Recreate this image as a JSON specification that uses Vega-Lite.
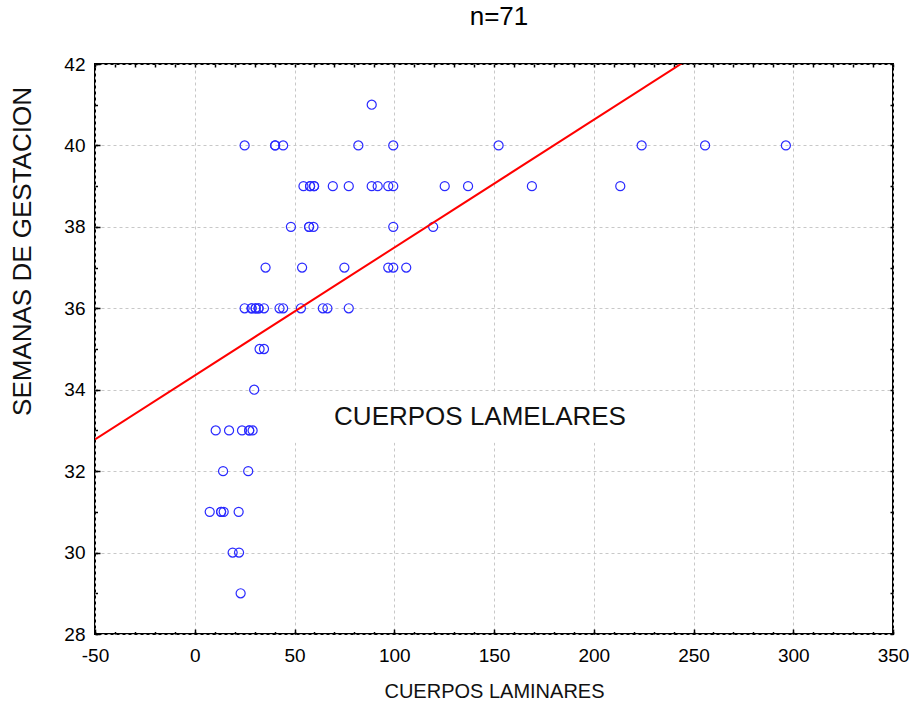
{
  "$schema": "https://vega.github.io/schema/vega-lite/v6.json",
  "width": 798,
  "height": 570,
  "autosize": {"type": "none"},
  "padding": {"left": 95, "top": 64, "right": 16, "bottom": 72},
  "background": "white",
  "title": {
    "text": "n=71",
    "font": "Liberation Sans",
    "fontSize": 26,
    "fontWeight": "normal",
    "color": "black",
    "anchor": "middle",
    "baseline": "alphabetic",
    "offset": 4,
    "dx": 5
  },
  "config": {
    "view": {"stroke": "black", "strokeWidth": 2},
    "axis": {
      "domain": false,
      "grid": false,
      "labelFont": "Liberation Sans",
      "labelFontSize": 19,
      "labelColor": "black",
      "labelFlush": false,
      "titleFont": "Liberation Sans",
      "titleColor": "#111111",
      "titleFontWeight": "normal",
      "tickColor": "black",
      "tickWidth": 1.5,
      "gridColor": "#c8c8c8",
      "gridDash": [3, 3],
      "gridWidth": 1
    }
  },
  "resolve": {"axis": {"x": "independent", "y": "independent"}},
  "layer": [
    {
      "data": {"values": [{"x0": 46, "x1": 240, "y0": 32.7, "y1": 33.93}]},
      "mark": {"type": "rect", "fill": "white", "strokeWidth": 0},
      "encoding": {
        "x": {
          "field": "x0", "type": "quantitative",
          "scale": {"domain": [-50, 350], "nice": false, "zero": false},
          "axis": {
            "orient": "bottom",
            "values": [-50, 0, 50, 100, 150, 200, 250, 300, 350],
            "labelExpr": "'' + datum.value",
            "labelOverlap": false,
            "grid": true, "ticks": false, "labelPadding": 12,
            "title": "CUERPOS LAMINARES", "titleFontSize": 20,
            "titleY": 57, "titleBaseline": "middle"
          }
        },
        "x2": {"field": "x1"},
        "y": {
          "field": "y0", "type": "quantitative",
          "scale": {"domain": [28, 42], "nice": false, "zero": false},
          "axis": {
            "orient": "left",
            "values": [28, 30, 32, 34, 36, 38, 40, 42],
            "labelOverlap": false,
            "grid": true, "ticks": false, "labelPadding": 10,
            "title": "SEMANAS DE GESTACION", "titleFontSize": 26,
            "titleX": -73, "titleY": 187,
            "titleAlign": "center", "titleBaseline": "middle"
          }
        },
        "y2": {"field": "y1"}
      }
    },
    {
      "data": {
        "values": [
          {"cuerpos": 88.7, "semanas": 41},
          {"cuerpos": 25, "semanas": 40}, {"cuerpos": 40.3, "semanas": 40}, {"cuerpos": 40.3, "semanas": 40},
          {"cuerpos": 44.3, "semanas": 40}, {"cuerpos": 82, "semanas": 40}, {"cuerpos": 99.5, "semanas": 40},
          {"cuerpos": 152.3, "semanas": 40}, {"cuerpos": 224, "semanas": 40}, {"cuerpos": 255.8, "semanas": 40},
          {"cuerpos": 296.3, "semanas": 40},
          {"cuerpos": 54.5, "semanas": 39}, {"cuerpos": 57.8, "semanas": 39}, {"cuerpos": 57.8, "semanas": 39},
          {"cuerpos": 59.8, "semanas": 39}, {"cuerpos": 59.8, "semanas": 39}, {"cuerpos": 69.2, "semanas": 39},
          {"cuerpos": 77.2, "semanas": 39}, {"cuerpos": 88.7, "semanas": 39}, {"cuerpos": 91.7, "semanas": 39},
          {"cuerpos": 97, "semanas": 39}, {"cuerpos": 99.5, "semanas": 39}, {"cuerpos": 125.3, "semanas": 39},
          {"cuerpos": 137, "semanas": 39}, {"cuerpos": 169, "semanas": 39}, {"cuerpos": 213.3, "semanas": 39},
          {"cuerpos": 48.2, "semanas": 38}, {"cuerpos": 57.3, "semanas": 38}, {"cuerpos": 57.3, "semanas": 38},
          {"cuerpos": 59.5, "semanas": 38}, {"cuerpos": 99.5, "semanas": 38}, {"cuerpos": 119.5, "semanas": 38},
          {"cuerpos": 35.5, "semanas": 37}, {"cuerpos": 53.8, "semanas": 37}, {"cuerpos": 75, "semanas": 37},
          {"cuerpos": 97, "semanas": 37}, {"cuerpos": 99.5, "semanas": 37}, {"cuerpos": 106, "semanas": 37},
          {"cuerpos": 25, "semanas": 36}, {"cuerpos": 28.5, "semanas": 36}, {"cuerpos": 28.5, "semanas": 36},
          {"cuerpos": 30.5, "semanas": 36}, {"cuerpos": 30.5, "semanas": 36}, {"cuerpos": 32, "semanas": 36},
          {"cuerpos": 32, "semanas": 36}, {"cuerpos": 34.7, "semanas": 36}, {"cuerpos": 42.5, "semanas": 36},
          {"cuerpos": 44.3, "semanas": 36}, {"cuerpos": 53.2, "semanas": 36}, {"cuerpos": 64.2, "semanas": 36},
          {"cuerpos": 66.5, "semanas": 36}, {"cuerpos": 77.2, "semanas": 36},
          {"cuerpos": 32.5, "semanas": 35}, {"cuerpos": 34.7, "semanas": 35},
          {"cuerpos": 29.8, "semanas": 34},
          {"cuerpos": 10.5, "semanas": 33}, {"cuerpos": 17.2, "semanas": 33}, {"cuerpos": 23.7, "semanas": 33},
          {"cuerpos": 27.3, "semanas": 33}, {"cuerpos": 27.3, "semanas": 33}, {"cuerpos": 29, "semanas": 33},
          {"cuerpos": 14.2, "semanas": 32}, {"cuerpos": 26.8, "semanas": 32},
          {"cuerpos": 7.5, "semanas": 31}, {"cuerpos": 13.2, "semanas": 31}, {"cuerpos": 13.2, "semanas": 31},
          {"cuerpos": 14.5, "semanas": 31}, {"cuerpos": 22, "semanas": 31},
          {"cuerpos": 19, "semanas": 30}, {"cuerpos": 22.2, "semanas": 30},
          {"cuerpos": 23, "semanas": 29}
        ]
      },
      "mark": {"type": "point", "shape": "circle", "filled": false, "size": 82, "stroke": "#2a2aff", "strokeWidth": 1.2, "opacity": 1},
      "encoding": {
        "x": {
          "field": "cuerpos", "type": "quantitative",
          "scale": {"domain": [-50, 350], "nice": false, "zero": false},
          "axis": {
            "orient": "bottom", "values": [-50, 0, 50, 100, 150, 200, 250, 300, 350],
            "labels": false, "tickSize": -5, "title": null
          }
        },
        "y": {
          "field": "semanas", "type": "quantitative",
          "scale": {"domain": [28, 42], "nice": false, "zero": false},
          "axis": {
            "orient": "left", "values": [28, 30, 32, 34, 36, 38, 40, 42],
            "labels": false, "tickSize": -5, "title": null
          }
        }
      }
    },
    {
      "data": {"values": [{"cuerpos": -50, "semanas": 32.78}, {"cuerpos": 350, "semanas": 45.34}]},
      "mark": {"type": "line", "color": "#ff0000", "strokeWidth": 2, "clip": true},
      "encoding": {
        "x": {
          "field": "cuerpos", "type": "quantitative",
          "scale": {"domain": [-50, 350], "nice": false, "zero": false},
          "axis": {
            "orient": "bottom",
            "values": [-50, -40, -30, -20, -10, 0, 10, 20, 30, 40, 50, 60, 70, 80, 90, 100, 110, 120, 130, 140, 150, 160, 170, 180, 190, 200, 210, 220, 230, 240, 250, 260, 270, 280, 290, 300, 310, 320, 330, 340, 350],
            "labels": false, "tickSize": -2.5, "title": null
          }
        },
        "y": {
          "field": "semanas", "type": "quantitative",
          "scale": {"domain": [28, 42], "nice": false, "zero": false},
          "axis": {
            "orient": "left",
            "values": [28, 29, 30, 31, 32, 33, 34, 35, 36, 37, 38, 39, 40, 41, 42],
            "labels": false, "tickSize": -2.5, "title": null
          }
        }
      }
    },
    {
      "data": {"values": [{"cuerpos": 143, "semanas": 33.32, "texto": "CUERPOS LAMELARES"}]},
      "mark": {"type": "text", "font": "Liberation Sans", "fontSize": 26, "color": "#111111", "align": "center", "baseline": "middle"},
      "encoding": {
        "x": {
          "field": "cuerpos", "type": "quantitative",
          "scale": {"domain": [-50, 350], "nice": false, "zero": false},
          "axis": {
            "orient": "top",
            "values": [-50, -40, -30, -20, -10, 0, 10, 20, 30, 40, 50, 60, 70, 80, 90, 100, 110, 120, 130, 140, 150, 160, 170, 180, 190, 200, 210, 220, 230, 240, 250, 260, 270, 280, 290, 300, 310, 320, 330, 340, 350],
            "labels": false, "tickSize": -3, "title": null
          }
        },
        "y": {
          "field": "semanas", "type": "quantitative",
          "scale": {"domain": [28, 42], "nice": false, "zero": false},
          "axis": {
            "orient": "right",
            "values": [28, 29, 30, 31, 32, 33, 34, 35, 36, 37, 38, 39, 40, 41, 42],
            "labels": false, "tickSize": -3, "title": null
          }
        },
        "text": {"field": "texto"}
      }
    }
  ]
}
